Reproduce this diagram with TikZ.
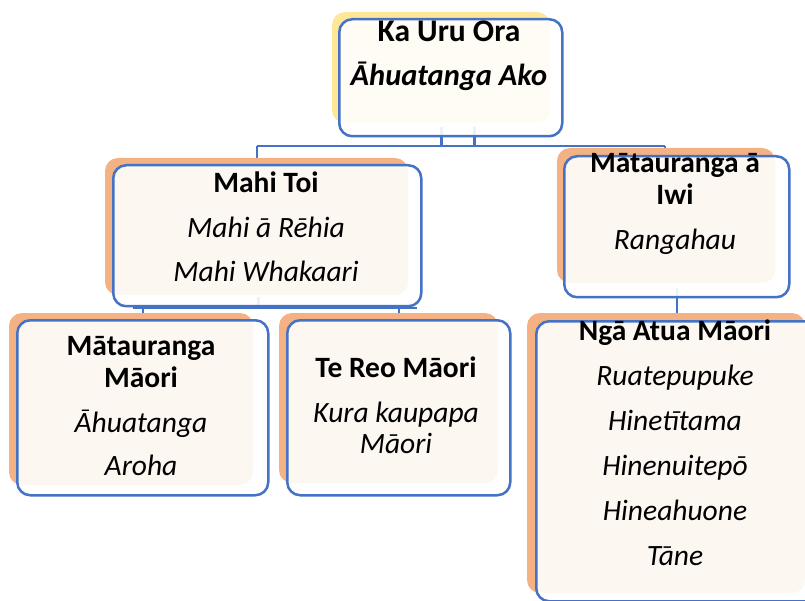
\documentclass[tikz,border=0pt]{standalone}
\usepackage{fontspec}
\setmainfont{Carlito}
\definecolor{boxblue}{HTML}{4472C4}
\definecolor{shorange}{HTML}{F4B183}
\definecolor{shyellow}{HTML}{FFE699}
\pgfdeclarelayer{connlayer}
\pgfdeclarelayer{shadlayer}
\pgfsetlayers{connlayer,shadlayer,main}
\tikzset{
  conn/.style={draw=boxblue, line width=2.5pt},
  shad/.style={rounded corners=13pt},
  box/.style={draw=boxblue, line width=2.5pt, fill=white, fill opacity=0.9, text opacity=1,
    rounded corners=13pt, inner sep=0pt, anchor=north west},
  hd/.style={font=\fontsize{29.5}{34}\selectfont\bfseries, anchor=base, inner sep=0pt},
  sub/.style={font=\fontsize{29.5}{34}\selectfont\itshape, anchor=base, inner sep=0pt},
}
\begin{document}
\begin{tikzpicture}[x=1pt, y=-1pt]
\useasboundingbox (0,0) rectangle (805,601);
\clip (0,0) rectangle (805,601);
% boxes
\node[box, minimum width=223pt, minimum height=117pt] (top) at (338,18) {};
\node[box, minimum width=308pt, minimum height=141pt] (mahi) at (112,164) {};
\node[box, minimum width=225pt, minimum height=141pt] (iwi) at (563,155) {};
\node[box, minimum width=251pt, minimum height=175pt] (mm) at (16,319) {};
\node[box, minimum width=223pt, minimum height=175pt] (tr) at (286,319) {};
\node[box, minimum width=282pt, minimum height=280pt] (nga) at (535,320) {};
% shadows
\begin{pgfonlayer}{shadlayer}
\fill[shyellow, shad] (332,12) rectangle (550,123);
\fill[shorange, shad] (105,158) rectangle (408,295);
\fill[shorange, shad] (557,148) rectangle (775,283);
\fill[shorange, shad] (9,313) rectangle (253,485);
\fill[shorange, shad] (279,313) rectangle (498,483);
\fill[shorange, shad] (527,313) rectangle (805,593);
\end{pgfonlayer}
% connectors
\coordinate (busL) at (257,146);
\coordinate (busR) at (665,146);
\coordinate (bus2L) at (133,308);
\coordinate (bus2R) at (417,308);
\begin{pgfonlayer}{connlayer}
\draw[conn] ([xshift=-9.5pt, yshift=10pt]top.south) -- ([xshift=-9.5pt]top.south |- busL);
\draw[conn] ([xshift=23.5pt, yshift=10pt]top.south) -- ([xshift=23.5pt]top.south |- busL);
\draw[conn] (busL) -- (busR);
\draw[conn] (busL) -- (busL |- mahi.north);
\draw[conn] (busR) -- (busR |- iwi.north);
\draw[conn] ([xshift=-9pt, yshift=10pt]mahi.south) -- ([xshift=-9pt]mahi.south |- bus2L);
\draw[conn] (bus2L) -- (bus2R);
\draw[conn] (mm.north |- bus2L) -- (mm.north);
\draw[conn] (tr.north |- bus2L) -- (tr.north);
\draw[conn] ([yshift=10pt]iwi.south) -- (iwi.south |- nga.north);
\end{pgfonlayer}
% texts
\node[hd, font=\fontsize{31.5}{36}\selectfont\bfseries] (t1) at (449,42) {Ka Uru Ora};
\node[hd, font=\fontsize{30.5}{36}\selectfont\bfseries\itshape] (t2) at (449,86) {Āhuatanga Ako};
\node[hd] (m1) at (266,193) {Mahi Toi};
\node[sub] (m2) at (266,238) {Mahi ā Rēhia};
\node[sub] (m3) at (266,282) {Mahi Whakaari};
\node[hd] (i1) at (675,173) {Mātauranga ā};
\node[hd] (i2) at (675,205) {Iwi};
\node[sub] (i3) at (675,250) {Rangahau};
\node[hd] (a1) at (141,355) {Mātauranga};
\node[hd] (a2) at (141,387) {Māori};
\node[sub] (a3) at (141,432) {Āhuatanga};
\node[sub] (a4) at (141,475) {Aroha};
\node[hd] (r1) at (396,377) {Te Reo Māori};
\node[sub] (r2) at (396,422) {Kura kaupapa};
\node[sub] (r3) at (396,453) {Māori};
\node[hd] (n1) at (675,340) {Ngā Atua Māori};
\node[sub] (n2) at (675,385) {Ruatepupuke};
\node[sub] (n3) at (675,430) {Hinetītama};
\node[sub] (n4) at (675,475) {Hinenuitepō};
\node[sub] (n5) at (675,520) {Hineahuone};
\node[sub] (n6) at (675,565) {Tāne};
\end{tikzpicture}
\end{document}
